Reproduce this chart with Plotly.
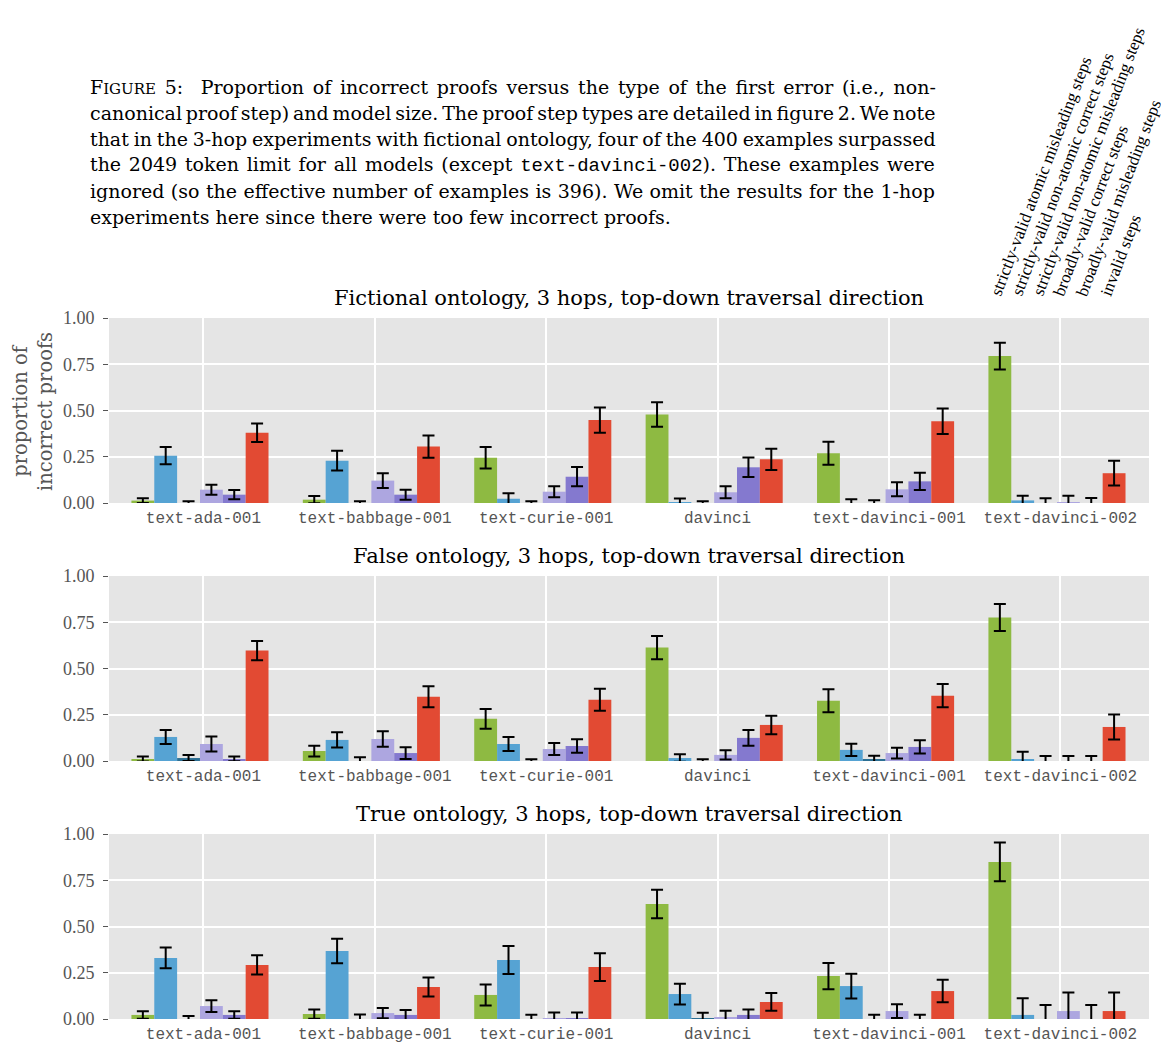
import plotly.graph_objects as go
import numpy as np

W, H = 1169, 1045
OFF = 8  # page body margin

models = ["text-ada-001", "text-babbage-001", "text-curie-001", "davinci",
          "text-davinci-001", "text-davinci-002"]
step_types = ["strictly-valid atomic misleading steps",
              "strictly-valid non-atomic correct steps",
              "strictly-valid non-atomic misleading steps",
              "broadly-valid correct steps",
              "broadly-valid misleading steps",
              "invalid steps"]
colors = ["#8EBA42", "#56A3D3", "#2C6F93", "#ADA6E0", "#8479CF", "#E24A33"]
panel_titles = ["Fictional ontology, 3 hops, top-down traversal direction",
                "False ontology, 3 hops, top-down traversal direction",
                "True ontology, 3 hops, top-down traversal direction"]
y_ticks = [0, 0.25, 0.5, 0.75, 1.0]
y_ticktext = ["0.00", "0.25", "0.50", "0.75", "1.00"]

# Fictional ontology
fic_vals = [
    [0.013, 0.018, 0.245, 0.478, 0.269, 0.794],
    [0.256, 0.229, 0.023, 0.004, 0.0, 0.014],
    [0.0, 0.0, 0.0, 0.0, 0.0, 0.0],
    [0.072, 0.121, 0.061, 0.058, 0.074, 0.004],
    [0.045, 0.045, 0.142, 0.193, 0.117, 0.0],
    [0.380, 0.305, 0.448, 0.236, 0.442, 0.161],
]
fic_errs = [
    [0.013, 0.02, 0.058, 0.066, 0.062, 0.072],
    [0.047, 0.054, 0.03, 0.02, 0.02, 0.025],
    [0.01, 0.01, 0.01, 0.01, 0.015, 0.025],
    [0.027, 0.04, 0.03, 0.033, 0.038, 0.035],
    [0.025, 0.027, 0.052, 0.053, 0.047, 0.027],
    [0.05, 0.06, 0.068, 0.057, 0.069, 0.067],
]
# False ontology
false_vals = [
    [0.011, 0.054, 0.228, 0.613, 0.326, 0.776],
    [0.130, 0.114, 0.092, 0.016, 0.060, 0.010],
    [0.016, 0.0, 0.0, 0.0, 0.009, 0.0],
    [0.092, 0.119, 0.065, 0.033, 0.043, 0.0],
    [0.011, 0.043, 0.081, 0.125, 0.076, 0.0],
    [0.597, 0.347, 0.331, 0.195, 0.353, 0.184],
]
false_errs = [
    [0.014, 0.029, 0.053, 0.063, 0.062, 0.073],
    [0.038, 0.041, 0.038, 0.02, 0.033, 0.04],
    [0.016, 0.02, 0.01, 0.01, 0.02, 0.027],
    [0.04, 0.042, 0.032, 0.025, 0.029, 0.027],
    [0.013, 0.032, 0.037, 0.043, 0.036, 0.027],
    [0.052, 0.057, 0.06, 0.05, 0.063, 0.068],
]
# True ontology
true_vals = [
    [0.022, 0.027, 0.130, 0.622, 0.232, 0.849],
    [0.330, 0.368, 0.319, 0.135, 0.178, 0.022],
    [0.0, 0.0, 0.0, 0.004, 0.0, 0.0],
    [0.070, 0.032, 0.005, 0.009, 0.043, 0.043],
    [0.022, 0.022, 0.005, 0.022, 0.0, 0.0],
    [0.292, 0.173, 0.281, 0.092, 0.151, 0.043],
]
true_errs = [
    [0.02, 0.025, 0.057, 0.077, 0.071, 0.105],
    [0.056, 0.066, 0.076, 0.056, 0.067, 0.09],
    [0.016, 0.025, 0.023, 0.03, 0.023, 0.076],
    [0.032, 0.028, 0.03, 0.036, 0.037, 0.1],
    [0.02, 0.027, 0.03, 0.03, 0.023, 0.076],
    [0.052, 0.052, 0.075, 0.048, 0.061, 0.1],
]

caption_lines = [
    "F<span style='font-size:15px'>IGURE</span> 5:  Proportion of incorrect proofs versus the type of the first error (i.e., non-",
    "canonical proof step) and model size. The proof step types are detailed in figure 2. We note",
    "that in the 3-hop experiments with fictional ontology, four of the 400 examples surpassed",
    "the 2049 token limit for all models (except <span style='font-family:Liberation Mono'>text-davinci-002</span>). These examples were",
    "ignored (so the effective number of examples is 396). We omit the results for the 1-hop",
    "experiments here since there were too few incorrect proofs.",
]
# per-line word spacing (px) used to justify the caption block
caption_wordspacing = [2.7, -2.2, -1.2, 1.7, 0.4, 0.0]

SERIF = "Liberation Serif"
WIDE_SERIF = "DejaVu Serif"
MONO = "Liberation Mono"


def px2x(px):
    return (px - OFF) / W


def px2y(py):
    return 1 - (py - OFF) / H


plot_left, plot_right = 109, 1149
panel_px = [(318, 503), (576, 761), (834, 1019)]

bar_w = 0.1333
shift = -0.02
x_idx = np.arange(len(models))

fig = go.Figure()
all_vals = [fic_vals, false_vals, true_vals]
all_errs = [fic_errs, false_errs, true_errs]

for p in range(3):
    xa = "x" if p == 0 else f"x{p+1}"
    ya = "y" if p == 0 else f"y{p+1}"
    for j in range(6):
        fig.add_trace(go.Bar(
            x=x_idx + shift + (j - 2.5) * bar_w,
            y=all_vals[p][j],
            width=bar_w,
            marker=dict(color=colors[j], line=dict(width=0)),
            error_y=dict(type="data", array=all_errs[p][j], color="black",
                         thickness=2, width=6),
            name=step_types[j],
            showlegend=False,
            xaxis=xa, yaxis=ya,
        ))

layout = dict(
    width=W, height=H,
    margin=dict(l=0, r=0, t=0, b=0, autoexpand=False),
    paper_bgcolor="white",
    plot_bgcolor="#E5E5E5",
    barmode="overlay",
    font=dict(family=SERIF, color="black"),
)
xrange = [(plot_left - 203.4) / 171.4, (plot_right - 203.4) / 171.4]
for p in range(3):
    top, bot = panel_px[p]
    xk = "xaxis" if p == 0 else f"xaxis{p+1}"
    yk = "yaxis" if p == 0 else f"yaxis{p+1}"
    layout[xk] = dict(
        domain=[px2x(plot_left), px2x(plot_right)],
        range=xrange, automargin=False,
        anchor="y" if p == 0 else f"y{p+1}",
        tickvals=list(x_idx), ticktext=models,
        showgrid=True, gridcolor="white", gridwidth=1.5,
        zeroline=False, showline=False, ticks="",
        ticklabelstandoff=3,
        tickfont=dict(family=MONO, size=16, color="#555555"),
        fixedrange=True,
    )
    layout[yk] = dict(
        domain=[px2y(bot), px2y(top)],
        range=[0, 1], automargin=False,
        anchor="x" if p == 0 else f"x{p+1}",
        tickvals=y_ticks, ticktext=y_ticktext,
        showgrid=True, gridcolor="white", gridwidth=1.5,
        zeroline=False, showline=False,
        ticks="outside", ticklen=5, tickwidth=1, tickcolor="#555555",
        ticklabelstandoff=5,
        tickfont=dict(family=SERIF, size=18, color="#555555"),
        fixedrange=True,
    )
fig.update_layout(**layout)

annotations = []
# panel titles
for p in range(3):
    top, bot = panel_px[p]
    annotations.append(dict(
        text=panel_titles[p], xref="paper", yref="paper",
        x=px2x((plot_left + plot_right) / 2), y=px2y(top - 6),
        xanchor="center", yanchor="bottom", showarrow=False,
        font=dict(family=WIDE_SERIF, size=21, color="black"),
    ))
# y axis title
annotations.append(dict(
    text="proportion of<br>incorrect proofs", xref="paper", yref="paper",
    x=px2x(33), y=px2y(412), xanchor="center", yanchor="middle",
    textangle=-90, showarrow=False,
    font=dict(family=WIDE_SERIF, size=19.5, color="#555555"),
))
# caption
cap_y = [87, 113, 139, 165, 191, 217]
for i, line in enumerate(caption_lines):
    annotations.append(dict(
        text=f"<span style='word-spacing:{caption_wordspacing[i]}px'>{line}</span>",
        xref="paper", yref="paper",
        x=px2x(88), y=px2y(cap_y[i]), xanchor="left", yanchor="middle",
        showarrow=False, font=dict(family=WIDE_SERIF, size=19, color="black"),
    ))
# rotated legend labels
leg_x = [995, 1016, 1037, 1058, 1081, 1105]
for j, lab in enumerate(step_types):
    annotations.append(dict(
        text=lab, xref="paper", yref="paper",
        x=px2x(leg_x[j] - 11), y=px2y(301), xanchor="left", yanchor="bottom",
        textangle=-69, showarrow=False,
        font=dict(family=SERIF, size=17, color="black"),
    ))
fig.update_layout(annotations=annotations)

fig.write_html("out.html")
